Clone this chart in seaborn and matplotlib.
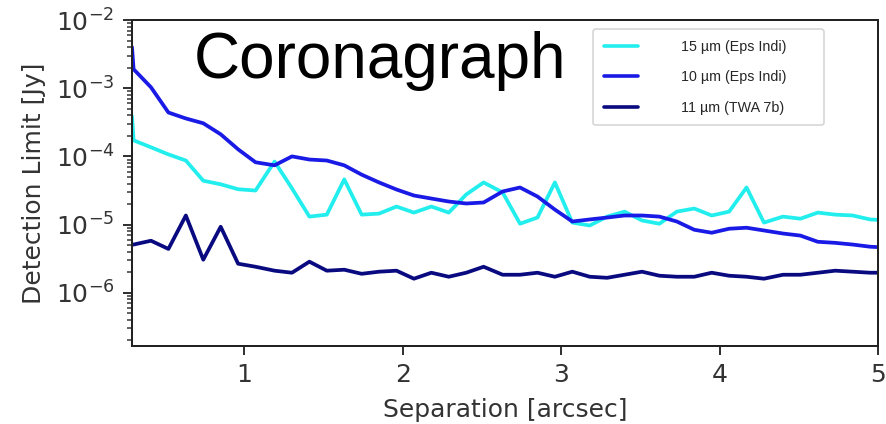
import numpy as np
import pandas as pd
import matplotlib
matplotlib.use("Agg")
import matplotlib.pyplot as plt
import seaborn as sns
from matplotlib.lines import Line2D

# ---- data ----
separation = [0.29, 0.30, 0.41, 0.52, 0.63, 0.74, 0.85, 0.96, 1.07, 1.19, 1.30,
              1.41, 1.52, 1.63, 1.74, 1.85, 1.96, 2.07, 2.18, 2.29, 2.40,
              2.51, 2.63, 2.74, 2.85, 2.96, 3.07, 3.18, 3.29, 3.40, 3.51,
              3.62, 3.73, 3.84, 3.95, 4.06, 4.17, 4.28, 4.40, 4.51, 4.62,
              4.73, 4.84, 4.95, 5.06]

limit_15um_eps = [3.9e-4, 1.72e-4, 1.36e-4, 1.07e-4, 8.7e-5, 4.4e-5, 3.9e-5, 3.3e-5,
                  3.16e-5, 8.4e-5, 3.4e-5, 1.31e-5, 1.40e-5, 4.6e-5, 1.40e-5,
                  1.45e-5, 1.84e-5, 1.50e-5, 1.84e-5, 1.50e-5, 2.76e-5, 4.15e-5,
                  2.96e-5, 1.03e-5, 1.27e-5, 4.15e-5, 1.07e-5, 9.7e-6, 1.31e-5,
                  1.55e-5, 1.15e-5, 1.03e-5, 1.55e-5, 1.72e-5, 1.36e-5, 1.55e-5,
                  3.5e-5, 1.07e-5, 1.31e-5, 1.22e-5, 1.50e-5, 1.40e-5, 1.36e-5,
                  1.19e-5, 1.15e-5]

limit_10um_eps = [4.0e-3, 1.9e-3, 1.03e-3, 4.4e-4, 3.6e-4, 3.06e-4, 2.11e-4, 1.27e-4,
                  8.2e-5, 7.4e-5, 1.0e-4, 9.0e-5, 8.7e-5, 7.4e-5, 5.4e-5, 4.15e-5,
                  3.27e-5, 2.67e-5, 2.41e-5, 2.18e-5, 2.04e-5, 2.11e-5, 3.06e-5,
                  3.5e-5, 2.58e-5, 1.66e-5, 1.11e-5, 1.19e-5, 1.27e-5, 1.36e-5,
                  1.36e-5, 1.31e-5, 1.11e-5, 8.4e-6, 7.6e-6, 8.7e-6, 9.0e-6,
                  8.2e-6, 7.4e-6, 6.9e-6, 5.6e-6, 5.4e-6, 5.1e-6, 4.74e-6, 4.6e-6]

limit_11um_twa = [5.1e-6, 5.1e-6, 5.8e-6, 4.4e-6, 1.36e-5, 3.06e-6, 9.3e-6, 2.67e-6,
                  2.41e-6, 2.11e-6, 1.97e-6, 2.86e-6, 2.11e-6, 2.18e-6, 1.90e-6,
                  2.04e-6, 2.11e-6, 1.61e-6, 1.97e-6, 1.72e-6, 1.97e-6, 2.41e-6,
                  1.84e-6, 1.84e-6, 1.97e-6, 1.72e-6, 2.04e-6, 1.72e-6, 1.66e-6,
                  1.84e-6, 2.04e-6, 1.78e-6, 1.72e-6, 1.72e-6, 1.97e-6, 1.78e-6,
                  1.72e-6, 1.61e-6, 1.84e-6, 1.84e-6, 1.97e-6, 2.11e-6, 2.04e-6,
                  1.97e-6, 1.97e-6]

series_labels = ["15 \u00b5m (Eps Indi)", "10 \u00b5m (Eps Indi)", "11 \u00b5m (TWA 7b)"]
series_colors = ["#22eeee", "#1a1ae6", "#0a0a80"]
x_ticks = [1, 2, 3, 4, 5]

df = pd.concat([
    pd.DataFrame({"sep": separation, "limit": limit_15um_eps, "series": series_labels[0]}),
    pd.DataFrame({"sep": separation, "limit": limit_10um_eps, "series": series_labels[1]}),
    pd.DataFrame({"sep": separation, "limit": limit_11um_twa, "series": series_labels[2]}),
])

sns.set_theme(style="ticks")
plt.rcParams["font.family"] = ["DejaVu Sans"]

S = 1.8
fig = plt.figure(figsize=(8.86, 4.24), dpi=100)
ax = fig.add_axes([132 / 886, 1 - 346 / 424, (878 - 132) / 886, (346 - 20) / 424])

sns.lineplot(data=df, x="sep", y="limit", hue="series", hue_order=series_labels,
             palette=series_colors, linewidth=2.7, ax=ax, legend=False,
             estimator=None, sort=False)

ax.set_yscale("log")
ax.set_xlim(0.29, 5.0)
ax.set_ylim(10 ** -6.78, 1e-2)
ax.set_xticks(x_ticks)
ax.set_xticklabels([str(t) for t in x_ticks])
ax.set_xlabel("Separation [arcsec]", fontsize=10 * S, color="#333333", labelpad=4 * S)
ax.set_ylabel("Detection Limit [Jy]", fontsize=10 * S, color="#333333", labelpad=4 * S)
ax.tick_params(axis="both", which="major", labelsize=10 * S, length=3.5 * S,
               width=0.8 * S, pad=3.5 * S, colors="#333333")
ax.tick_params(axis="y", which="minor", length=2 * S, width=0.6 * S, color="#333333")
ax.xaxis.set_minor_locator(matplotlib.ticker.NullLocator())
for sp in ax.spines.values():
    sp.set_linewidth(0.8 * S)
    sp.set_color("#222222")

# title-like annotation
ax.text(0.333, 0.875, "Coronagraph", transform=ax.transAxes, ha="center", va="center",
        fontsize=46, family=["Liberation Sans", "DejaVu Sans"], color="black")

# legend
handles = [Line2D([], [], color=c, lw=2.6) for c in series_colors]
leg = ax.legend(handles, series_labels, loc="upper left",
                bbox_to_anchor=(593 / 886, 1 - 29 / 424, (824 - 593) / 886, 0),
                bbox_transform=fig.transFigure, mode="expand", borderaxespad=0,
                prop={"family": "Liberation Sans", "size": 10.3},
                handlelength=2.4, handletextpad=3.0, labelspacing=1.15,
                borderpad=0.75, frameon=True, fancybox=True)
leg.get_frame().set_edgecolor("#cccccc")
leg.get_frame().set_linewidth(1.2)

fig.savefig("out.png", dpi=100)
